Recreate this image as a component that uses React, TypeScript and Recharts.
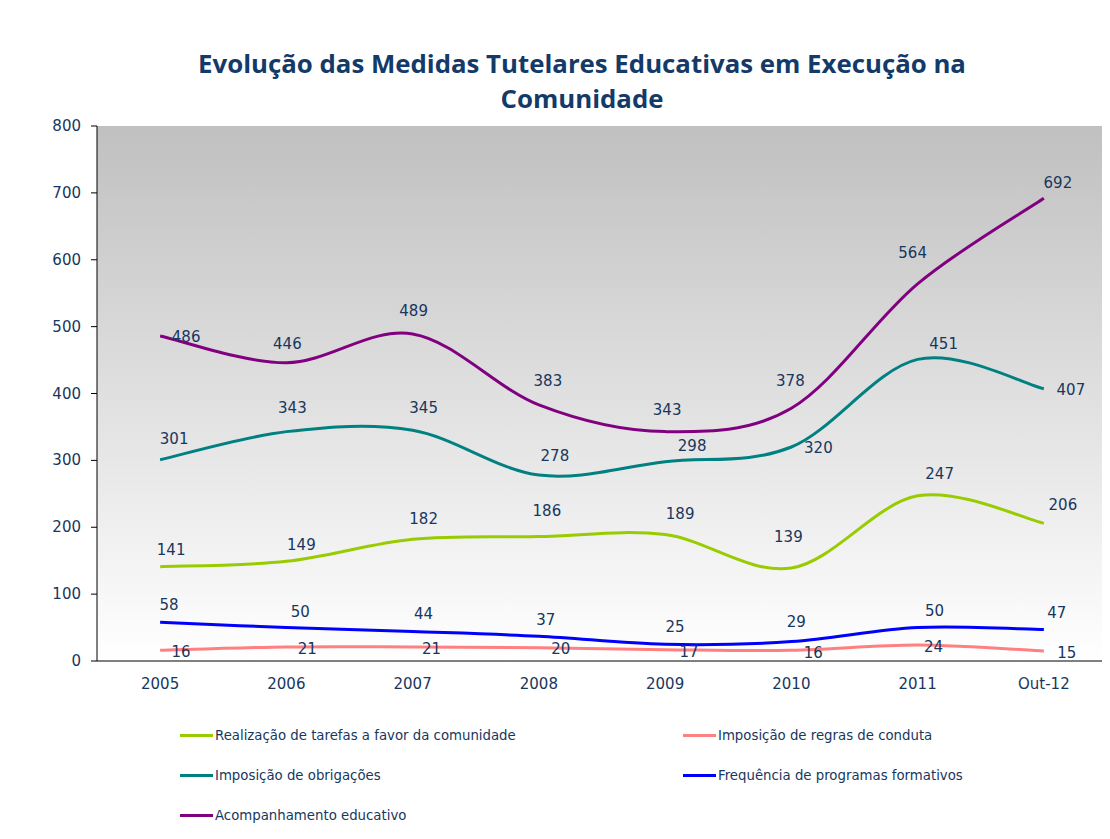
import React from 'react';
import { LineChart, Line, XAxis, YAxis, CartesianGrid, Legend, LabelList } from 'recharts';

const categories = ['2005', '2006', '2007', '2008', '2009', '2010', '2011', 'Out-12'];
const realizacao = [141, 149, 182, 186, 189, 139, 247, 206];
const regras = [16, 21, 21, 20, 17, 16, 24, 15];
const obrigacoes = [301, 343, 345, 278, 298, 320, 451, 407];
const frequencia = [58, 50, 44, 37, 25, 29, 50, 47];
const acompanhamento = [486, 446, 489, 383, 343, 378, 564, 692];
const yTicks = [0, 100, 200, 300, 400, 500, 600, 700, 800];

const TEXT = '#17375E';
const FONT = '"DejaVu Sans", Verdana, sans-serif';

const series = [
  { key: 'realizacao', name: 'Realização de tarefas a favor da comunidade', color: '#99CC00' },
  { key: 'regras', name: 'Imposição de regras de conduta', color: '#FF8080' },
  { key: 'obrigacoes', name: 'Imposição de obrigações', color: '#008080' },
  { key: 'frequencia', name: 'Frequência de programas formativos', color: '#0000FF' },
  { key: 'acompanhamento', name: 'Acompanhamento educativo', color: '#800080' },
];

// label placement (layout only): [dx, dy] from each point
const LABEL_OFFSETS: Record<string, number[][]> = {
  acompanhamento: [[26, 1], [1, -19], [1, -23], [9, -24], [2, -22], [-1, -27], [-5, -31], [14, -15]],
  obrigacoes: [[14, -21], [6, -24], [11, -22], [16, -19], [27, -16], [27, 1], [26, -15], [27, 1]],
  realizacao: [[11, -17], [15, -16], [11, -20], [8, -26], [15, -21], [-3, -31], [22, -22], [19, -18]],
  frequencia: [[9, -17], [14, -16], [11, -18], [7, -16], [10, -17], [5, -20], [17, -17], [13, -17]],
  regras: [[21, 2], [21, 2], [19, 2], [22, 1], [24, 2], [22, 3], [16, 2], [23, 2]],
};

const data = categories.map((c, i) => ({
  cat: c,
  realizacao: realizacao[i],
  regras: regras[i],
  obrigacoes: obrigacoes[i],
  frequencia: frequencia[i],
  acompanhamento: acompanhamento[i],
}));

const boundaryTicks = categories.map((_, i) => i).concat([categories.length]);

// Excel-like smoothed line (cardinal spline, tension 1/6)
const excelCurve: any = (context: any) => {
  let pts: number[][] = [];
  return {
    areaStart() {},
    areaEnd() {},
    lineStart() { pts = []; },
    point(x: number, y: number) { pts.push([+x, +y]); },
    lineEnd() {
      const n = pts.length;
      if (!n) return;
      context.moveTo(pts[0][0], pts[0][1]);
      const t = 1 / 6;
      for (let i = 0; i < n - 1; i++) {
        const p0 = pts[i - 1] || pts[i];
        const p1 = pts[i];
        const p2 = pts[i + 1];
        const p3 = pts[i + 2] || p2;
        context.bezierCurveTo(
          p1[0] + (p2[0] - p0[0]) * t, p1[1] + (p2[1] - p0[1]) * t,
          p2[0] - (p3[0] - p1[0]) * t, p2[1] - (p3[1] - p1[1]) * t,
          p2[0], p2[1]
        );
      }
    },
  };
};

const makeLabel = (key: string) => (props: any) => {
  const { x, y, value, index } = props;
  const off = (LABEL_OFFSETS[key] && LABEL_OFFSETS[key][index]) || [0, -15];
  return (
    <text x={x + off[0]} y={y + off[1]} textAnchor="middle" dominantBaseline="central"
      fill={TEXT} fontSize={15} fontFamily={FONT}>{value}</text>
  );
};

const renderXTick = (props: any) => {
  const { x, y, payload } = props;
  return (
    <text x={x} y={y} dy={15} textAnchor="middle" fill={TEXT} fontSize={15} fontFamily={FONT}>{payload.value}</text>
  );
};

const renderYTick = (props: any) => {
  const { x, y, payload } = props;
  return (
    <text x={x} y={y} textAnchor="end" dominantBaseline="central" fill={TEXT} fontSize={15} fontFamily={FONT}>{payload.value}</text>
  );
};

const renderLegend = (props: any) => {
  const order = series.map((s) => s.name);
  const items = [...(props.payload || [])].sort((a: any, b: any) => order.indexOf(a.value) - order.indexOf(b.value));
  return (
    <div style={{ display: 'grid', gridTemplateColumns: '503px 503px', gridAutoRows: '40px' }}>
      {items.map((it: any) => (
        <div key={it.value} style={{ display: 'flex', alignItems: 'center', height: 16 }}>
          <span style={{ display: 'inline-block', width: 33, height: 3, background: it.color, marginRight: 2 }} />
          <span style={{ color: TEXT, fontFamily: FONT, fontSize: 13.3, whiteSpace: 'nowrap' }}>{it.value}</span>
        </div>
      ))}
    </div>
  );
};

export default function App() {
  return (
    <div style={{ position: 'relative', width: 1102, height: 831 }}>
      <div style={{ position: 'absolute', left: 0, width: 1148, top: 38, textAlign: 'center', fontFamily: '"Open Sans", sans-serif', fontWeight: 700, fontSize: 25.8, lineHeight: '35px', color: '#133A68', zIndex: 2 }}>
        Evolução das Medidas Tutelares Educativas em Execução na<br />Comunidade
      </div>
      <LineChart width={1102} height={831} data={data} margin={{ top: 118, right: 3, left: 0, bottom: 148 }}>
        <defs>
          <linearGradient id="bgGrad" x1="0" y1="0" x2="0" y2="1">
            <stop offset="0%" stopColor="#C0C0C0" />
            <stop offset="100%" stopColor="#FFFFFF" />
          </linearGradient>
        </defs>
        <CartesianGrid horizontal={false} vertical={false} fill="url(#bgGrad)" />
        <XAxis xAxisId="bounds" type="number" dataKey={() => 0} domain={[0, categories.length]} ticks={boundaryTicks}
          allowDataOverflow height={0} tick={false} tickSize={6} tickLine={{ stroke: '#000' }} axisLine={false} />
        <XAxis xAxisId="cat" dataKey="cat" type="category" scale="band" height={30}
          tickLine={false} tickSize={0} tickMargin={13} axisLine={{ stroke: '#000' }}
          tick={renderXTick} interval={0} />
        <YAxis width={89} domain={[0, 800]} ticks={yTicks} interval={0} tickSize={6} tickMargin={10}
          axisLine={{ stroke: '#000' }} tickLine={{ stroke: '#000' }}
          tick={renderYTick} />
        <Legend layout="vertical" align="center" verticalAlign="middle" content={renderLegend}
          wrapperStyle={{ top: 719, left: 172, width: 1010 }} />
        {series.map((s) => (
          <Line key={s.key} xAxisId="cat" dataKey={s.key} name={s.name} type={excelCurve} stroke={s.color}
            strokeWidth={3} dot={false} isAnimationActive={false} legendType="line">
            <LabelList dataKey={s.key} content={makeLabel(s.key)} />
          </Line>
        ))}
      </LineChart>
    </div>
  );
}
